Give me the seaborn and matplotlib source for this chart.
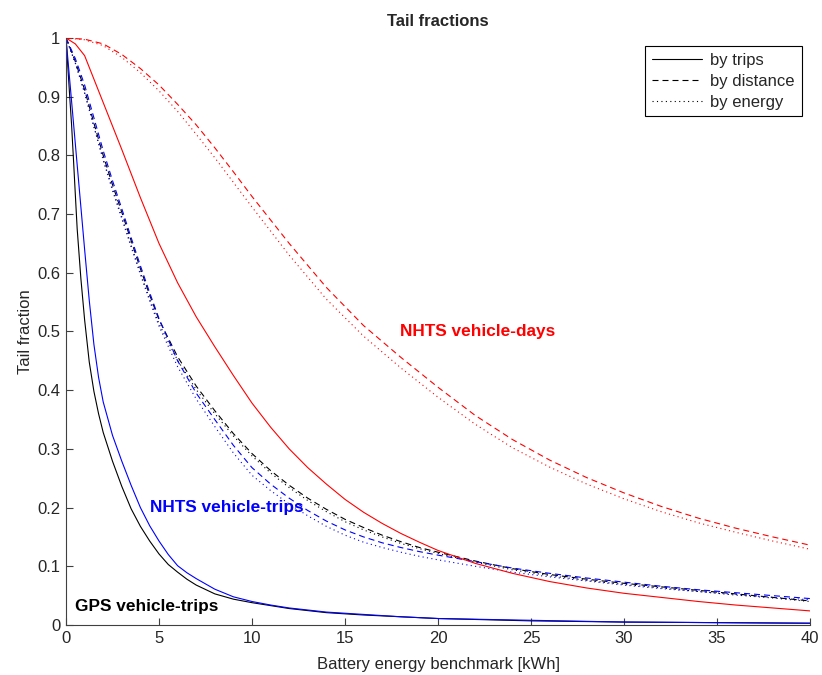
import matplotlib
matplotlib.use("Agg")
import matplotlib.pyplot as plt
from matplotlib.lines import Line2D
import numpy as np
import pandas as pd
import seaborn as sns

# ---- data -------------------------------------------------------------
# GPS vehicle-trips, tail fraction by trips
gps_trips_x = [0, 0.1, 0.2, 0.3, 0.4, 0.5, 0.6, 0.8, 1.0, 1.25, 1.5, 1.75, 2.0, 2.5,
               3.0, 3.5, 4.0, 4.5, 5.0, 5.5, 6.0, 6.5, 7.0, 8.0, 9.0, 10, 11, 12,
               14, 16, 18, 20, 25, 30, 35, 40]
gps_trips_y = [1.0, 0.95, 0.9, 0.852, 0.794, 0.734, 0.675, 0.59, 0.52, 0.448, 0.398,
               0.36, 0.328, 0.279, 0.236, 0.198, 0.168, 0.143, 0.121, 0.103, 0.09,
               0.078, 0.068, 0.053, 0.044, 0.038, 0.033, 0.028, 0.021, 0.017, 0.014,
               0.011, 0.007, 0.005, 0.004, 0.003]

# NHTS vehicle-trips, tail fraction by trips
nhts_trips_x = [0, 0.25, 0.5, 0.75, 1.0, 1.25, 1.5, 1.75, 2.0, 2.5, 3.0, 3.5, 4.0,
                4.5, 5.0, 5.5, 6.0, 6.5, 7.0, 8.0, 9.0, 10, 11, 12, 14, 16, 18, 20,
                25, 30, 35, 40]
nhts_trips_y = [1.0, 0.91, 0.82, 0.73, 0.64, 0.553, 0.478, 0.422, 0.38, 0.323, 0.279,
                0.238, 0.2, 0.169, 0.143, 0.12, 0.101, 0.089, 0.079, 0.061, 0.048,
                0.04, 0.034, 0.029, 0.022, 0.018, 0.014, 0.011, 0.008, 0.005, 0.004,
                0.003]

# distance / energy weighted tails for the trip data sets
trip_wt_x = [0, 0.5, 1, 1.5, 2, 2.5, 3, 3.5, 4, 4.5, 5, 6, 7, 8, 9, 10, 11, 12, 13,
             14, 15, 16, 17, 18, 19, 20, 22, 24, 26, 28, 30, 32, 34, 36, 38, 40]
gps_dist_y = [1.0, 0.96, 0.912, 0.855, 0.8, 0.75, 0.703, 0.655, 0.607, 0.562, 0.52,
              0.457, 0.407, 0.365, 0.326, 0.292, 0.263, 0.238, 0.216, 0.197, 0.18,
              0.166, 0.153, 0.142, 0.132, 0.124, 0.109, 0.096, 0.086, 0.078, 0.071,
              0.065, 0.059, 0.053, 0.047, 0.041]
gps_energy_y = [1.0, 0.957, 0.907, 0.849, 0.793, 0.743, 0.695, 0.647, 0.6, 0.555,
                0.513, 0.451, 0.401, 0.36, 0.322, 0.288, 0.259, 0.234, 0.212, 0.193,
                0.176, 0.162, 0.15, 0.139, 0.13, 0.122, 0.107, 0.094, 0.084, 0.076,
                0.069, 0.063, 0.057, 0.051, 0.046, 0.04]
nhts_dist_y = [1.0, 0.965, 0.92, 0.864, 0.808, 0.757, 0.709, 0.66, 0.612, 0.566,
               0.522, 0.45, 0.395, 0.35, 0.306, 0.268, 0.24, 0.216, 0.195, 0.177,
               0.162, 0.15, 0.14, 0.132, 0.125, 0.119, 0.108, 0.097, 0.088, 0.08,
               0.073, 0.066, 0.06, 0.055, 0.05, 0.045]
nhts_energy_y = [1.0, 0.958, 0.906, 0.849, 0.792, 0.74, 0.692, 0.644, 0.597, 0.552,
                 0.509, 0.44, 0.385, 0.338, 0.293, 0.255, 0.229, 0.206, 0.186, 0.168,
                 0.153, 0.141, 0.132, 0.124, 0.117, 0.111, 0.1, 0.09, 0.082, 0.075,
                 0.068, 0.062, 0.057, 0.052, 0.047, 0.043]

# NHTS vehicle-days
days_trips_x = [0, 0.5, 1, 1.5, 2, 2.5, 3, 4, 5, 6, 7, 8, 9, 10, 11, 12, 13, 14, 15,
                16, 17, 18, 19, 20, 22, 24, 26, 28, 30, 32, 34, 36, 38, 40]
days_trips_y = [1.0, 0.99, 0.97, 0.93, 0.89, 0.85, 0.81, 0.728, 0.65, 0.583, 0.525,
                0.474, 0.425, 0.378, 0.337, 0.3, 0.268, 0.24, 0.214, 0.192, 0.173,
                0.156, 0.141, 0.127, 0.105, 0.088, 0.074, 0.063, 0.054, 0.047, 0.04,
                0.034, 0.029, 0.024]
days_wt_x = [0, 1, 2, 3, 4, 5, 6, 7, 8, 9, 10, 12, 14, 16, 18, 20, 22, 24, 26, 28,
             30, 32, 34, 36, 38, 40]
days_dist_y = [1.0, 0.998, 0.99, 0.972, 0.948, 0.92, 0.887, 0.852, 0.813, 0.772,
               0.73, 0.65, 0.575, 0.51, 0.456, 0.405, 0.357, 0.316, 0.281, 0.251,
               0.225, 0.202, 0.182, 0.165, 0.15, 0.136]
days_energy_y = [1.0, 0.997, 0.987, 0.967, 0.941, 0.91, 0.875, 0.836, 0.796, 0.754,
                 0.712, 0.63, 0.555, 0.492, 0.438, 0.388, 0.342, 0.302, 0.269, 0.24,
                 0.215, 0.193, 0.174, 0.158, 0.143, 0.129]

measures = ["by trips", "by distance", "by energy"]
datasets = ["GPS vehicle-trips", "NHTS vehicle-trips", "NHTS vehicle-days"]
x_ticks = [0, 5, 10, 15, 20, 25, 30, 35, 40]
y_ticks = [0, 0.1, 0.2, 0.3, 0.4, 0.5, 0.6, 0.7, 0.8, 0.9, 1]
y_tick_labels = ["0", "0.1", "0.2", "0.3", "0.4", "0.5", "0.6", "0.7", "0.8", "0.9", "1"]

series = [
    (datasets[0], measures[0], gps_trips_x, gps_trips_y),
    (datasets[0], measures[1], trip_wt_x, gps_dist_y),
    (datasets[0], measures[2], trip_wt_x, gps_energy_y),
    (datasets[1], measures[0], nhts_trips_x, nhts_trips_y),
    (datasets[1], measures[1], trip_wt_x, nhts_dist_y),
    (datasets[1], measures[2], trip_wt_x, nhts_energy_y),
    (datasets[2], measures[0], days_trips_x, days_trips_y),
    (datasets[2], measures[1], days_wt_x, days_dist_y),
    (datasets[2], measures[2], days_wt_x, days_energy_y),
]
df = pd.concat(
    [pd.DataFrame({"energy": xs, "fraction": ys, "dataset": d, "measure": m})
     for d, m, xs, ys in series],
    ignore_index=True,
)

# ---- style ------------------------------------------------------------
sns.set_style("ticks")
plt.rcParams["font.family"] = ["Liberation Sans", "DejaVu Sans"]
plt.rcParams["font.size"] = 12
plt.rcParams["xtick.direction"] = "in"
plt.rcParams["ytick.direction"] = "in"

palette = {datasets[0]: "black", datasets[1]: "#0000ff", datasets[2]: "#ff0000"}
dash_map = {measures[0]: "", measures[1]: (5.4, 3.6), measures[2]: (1.0, 3.0)}
lw = 0.8

fig = plt.figure(figsize=(8.22, 6.75), dpi=100)
ax = fig.add_axes([0.0803, 0.0741, 0.9051, 0.8696])

sns.lineplot(data=df, x="energy", y="fraction", hue="dataset", style="measure",
             palette=palette, dashes=dash_map, estimator=None, sort=False,
             linewidth=lw, legend=False, ax=ax)

ax.set_xlim(0, 40)
ax.set_ylim(0, 1)
ax.set_xticks(x_ticks)
ax.set_xticklabels([str(t) for t in x_ticks])
ax.set_yticks(y_ticks)
ax.set_yticklabels(y_tick_labels)
ax.tick_params(axis="both", length=5, width=0.8, color="#404040",
               labelsize=12, pad=4)
sns.despine(ax=ax)
for side in ("left", "bottom"):
    ax.spines[side].set_color("#404040")
    ax.spines[side].set_linewidth(0.8)

ax.set_xlabel("Battery energy benchmark [kWh]", fontsize=12, labelpad=8)
ax.set_ylabel("Tail fraction", fontsize=12, labelpad=3)
ax.set_title("Tail fractions", fontsize=12, fontweight="bold", pad=9)

ax.text(17.96, 0.50, "NHTS vehicle-days", color="#ff0000", fontsize=12.4,
        fontweight="bold", ha="left", va="center")
ax.text(4.52, 0.20, "NHTS vehicle-trips", color="#0000ff", fontsize=12.4,
        fontweight="bold", ha="left", va="center")
ax.text(0.48, 0.032, "GPS vehicle-trips", color="black", fontsize=12.4,
        fontweight="bold", ha="left", va="center")

handles = [Line2D([], [], color="black", lw=lw, linestyle="-"),
           Line2D([], [], color="black", lw=lw, linestyle=(0, dash_map[measures[1]])),
           Line2D([], [], color="black", lw=lw, linestyle=(0, dash_map[measures[2]]))]
leg = ax.legend(handles, measures, loc="upper right", fancybox=False,
                edgecolor="black", framealpha=1, handlelength=3.0,
                handletextpad=0.5, borderpad=0.4, labelspacing=0.35,
                fontsize=12)
leg.get_frame().set_linewidth(0.8)

fig.savefig("out.png", dpi=100)
